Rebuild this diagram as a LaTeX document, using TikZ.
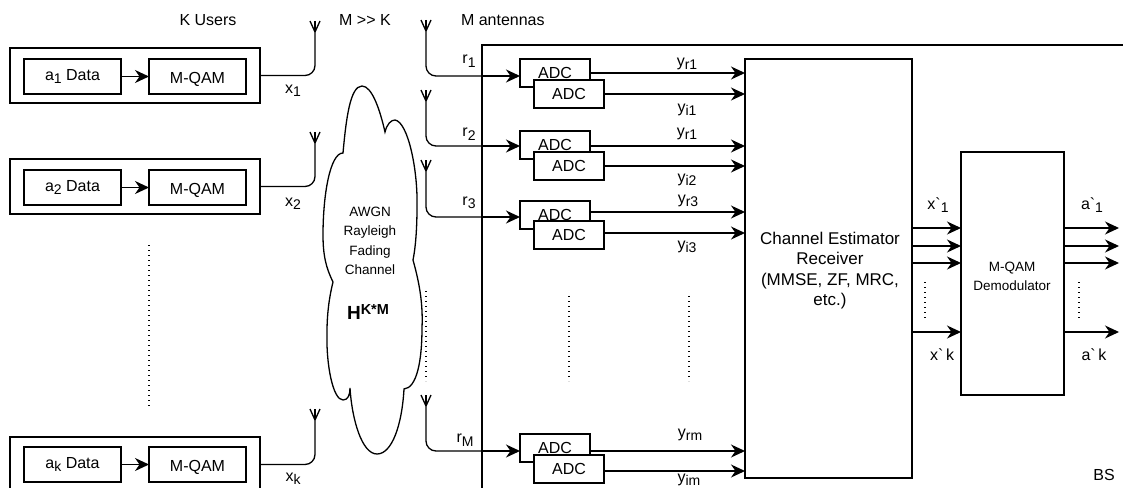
\documentclass[tikz,border=0pt]{standalone}
\usepackage{fontspec}
\usetikzlibrary{arrows.meta,positioning}
\newfontfamily\lib{Liberation Sans}
\newcommand\sbb[1]{\raisebox{-3.5pt}{\fontsize{14}{14}\selectfont #1}}
\newcommand\dn[1]{\raisebox{-2.5pt}[\height][\depth]{#1}}
\tikzset{
  every node/.style={font=\lib\fontsize{16}{18}\selectfont,inner sep=0pt,outer sep=0pt},
  ln/.style={line width=1.3pt,draw=black},
  arr/.style={ln,-{Stealth[length=14pt,width=13pt,inset=4.5pt]}},
  wire/.style={ln,rounded corners=10pt},
  dots/.style={line width=1.3pt,dash pattern=on 1.3pt off 3.7pt},
  small/.style={font=\lib\fontsize{13.5}{19.5}\selectfont,align=center},
  ublock/.style={ln,minimum width=250pt,minimum height=55pt},
  ubox/.style={ln,minimum width=97pt,minimum height=35pt},
  adcbox/.style={ln,fill=white,minimum width=70pt,minimum height=28pt}
}
\newcommand\antn[2]{\coordinate (#1) at #2; \draw[ln] (#1) -- ++(0,11) coordinate (#1f); \draw[ln] (#1f) -- ++(-5,-11) (#1f) -- ++(5,-11);}
\begin{document}
\begin{tikzpicture}[x=1pt,y=-1pt]
\useasboundingbox (0,0) rectangle (1123,487);
\fill[white] (0,0) rectangle (1123,487);
\clip (0,0) rectangle (1123,487);
% base station frame
\node[ln,minimum width=661pt,minimum height=462pt,anchor=north west] (bs) at (482,45) {};
% users
\node[ublock] (u1) at (135,75.5) {};
\node[ublock] (u2) at (135,186.5) {};
\node[ublock] (u3) at (135,464.5) {};
\node[ubox] (d1) at (72.5,76.5) {a\sbb{1} Data};
\node[ubox] (m1) at (197.5,76.5) {\dn{M-QAM}};
\node[ubox] (d2) at (72.5,187.5) {a\sbb{2} Data};
\node[ubox] (m2) at (197.5,187.5) {\dn{M-QAM}};
\node[ubox] (d3) at (72.5,464.5) {a\sbb{k} Data};
\node[ubox] (m3) at (197.5,464.5) {\dn{M-QAM}};
\foreach \i in {1,2,3} \draw[arr] (d\i) -- (m\i);
% antennas
\antn{t1}{(315,21)}
\antn{t2}{(315,132)}
\antn{t3}{(315,409)}
\draw[wire] (u1.east) -| (t1f);
\draw[wire] (u2.east) -| (t2f);
\draw[wire] (u3.east) -| (t3f);
\node (x1) at (293,91) {x\sbb{1}};
\node (x2) at (293,204) {x\sbb{2}};
\node (x3) at (293,479) {x\sbb{k}};
% headings
\node (h1) at (208,20) {K Users};
\node (h2) at (365,20) {M >> K};
\node[anchor=west] (h3) at (461,20) {M antennas};
% cloud
\draw[ln] (343,153) .. controls (346,120) and (350,86) .. (362,86)
 .. controls (372,86) and (380,110) .. (385,132)
 .. controls (387,124) and (391,120) .. (395,120)
 .. controls (408,122) and (418,170) .. (417,207)
 .. controls (417,225) and (416,245) .. (413,260)
 .. controls (420,285) and (423,305) .. (422,328)
 .. controls (422,360) and (417,388) .. (404,389)
 .. controls (402,425) and (392,454) .. (377,454)
 .. controls (362,454) and (352,420) .. (350,388)
 .. controls (350,395) and (348,400) .. (343,400)
 .. controls (333,400) and (326,365) .. (327,332)
 .. controls (327,315) and (329,298) .. (333,282)
 .. controls (326,268) and (323,255) .. (323,235)
 .. controls (323,195) and (330,153) .. (343,153) -- cycle;
\node[small] (ct) at (370,241) {AWGN\\Rayleigh\\Fading\\Channel};
\node (hm) at (368,312) {\fontsize{19}{19}\selectfont\bfseries H\raisebox{5pt}{\fontsize{14.5}{14}\selectfont K*M}};
% receiver and demodulator
\node[ln,minimum width=167pt,minimum height=419pt,anchor=north west,align=center] (rx) at (745,59) {};
\node[align=center,font=\lib\fontsize{17}{20.3}\selectfont] (rt) at (830,270.5) {Channel Estimator\\Receiver\\(MMSE, ZF, MRC,\\etc.)};
\node[ln,minimum width=103pt,minimum height=243pt,anchor=north west] (dm) at (961,152) {};
\node[small] (dt) at (1012,276.5) {M-QAM\\Demodulator};
% ADC
\foreach \n/\yb/\yf in {1/73/94,2/145/166,3/215/235,4/448/469}{
  \node[adcbox] (ab\n) at (555,\yb) {ADC};
  \node[adcbox] (af\n) at (569,\yf) {ADC};
}
% receive antennas
\antn{r1}{(426,20)}
\antn{r2}{(426,90)}
\antn{r3}{(426,160)}
\antn{r4}{(426,395)}
\draw[wire] (r1f) |- (bs.west |- {0,76}) coordinate (c1);
\draw[wire] (r2f) |- (bs.west |- {0,146}) coordinate (c2);
\draw[wire] (r3f) |- (bs.west |- {0,217}) coordinate (c3);
\draw[wire] (r4f) |- (bs.west |- {0,451}) coordinate (c4);
\foreach \i in {1,2,3,4} \draw[arr] (c\i) -- (c\i -| ab\i.west);
\node (l1) at (469,61) {r\sbb{1}};
\node (l2) at (469,134) {r\sbb{2}};
\node (l3) at (469,203) {r\sbb{3}};
\node (l4) at (465,440) {r\sbb{M}};
% ADC outputs
\foreach \n/\yr/\yi in {1/73/94,2/146/166,3/212/233,4/451/471}{
  \coordinate (pr) at (ab\n.east |- {0,\yr});
  \coordinate (pi) at (af\n.east |- {0,\yi});
  \draw[arr] (pr) -- (pr -| rx.west);
  \draw[arr] (pi) -- (pi -| rx.west);
}
\node (y1) at (687,64) {y\sbb{r1}};
\node (y2) at (687,110) {y\sbb{i1}};
\node (y3) at (687,134) {y\sbb{r1}};
\node (y4) at (687,180) {y\sbb{i2}};
\node (y5) at (688,201) {y\sbb{r3}};
\node (y6) at (687,247) {y\sbb{i3}};
\node (y7) at (690,435) {y\sbb{rm}};
\node (y8) at (689,480) {y\sbb{im}};
% estimator to demodulator and outputs
\foreach \y/\k in {228/a,246/b,263/c,332/d}{
  \coordinate (pe\k) at (rx.east |- {0,\y});
  \draw[arr] (pe\k) -- (pe\k -| dm.west);
  \coordinate (po\k) at (dm.east |- {0,\y});
  \coordinate (pz\k) at (1119,\y);
  \draw[arr] (po\k) -- (pz\k);
}
\node (e1) at (938,205) {x\char96\sbb{1}};
\node (e2) at (942,355) {x\char96\,k};
\node (e3) at (1092,205) {a\char96\sbb{1}};
\node (e4) at (1094,355) {a\char96\,k};
\node (bst) at (1104,475) {BS};
% dots
\draw[dots] (149,245) -- (149,408);
\draw[dots] (426,291) -- (426,381);
\draw[dots] (569,296) -- (569,381);
\draw[dots] (689,296) -- (689,381);
\draw[dots] (925,282) -- (925,318);
\draw[dots] (1079,282) -- (1079,318);
\end{tikzpicture}
\end{document}
